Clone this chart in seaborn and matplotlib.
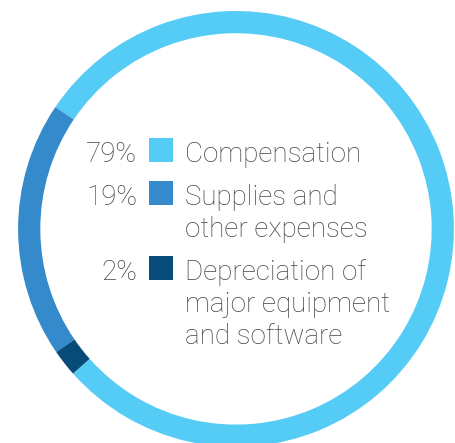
import seaborn as sns
import matplotlib.pyplot as plt
from matplotlib.patches import Rectangle

categories = ["Compensation", "Supplies and\nother expenses",
              "Depreciation of\nmajor equipment\nand software"]
shares = [79, 19, 2]
pct_labels = ["79%", "19%", "2%"]
colors = ["#55CCF5", "#358ACC", "#074B78"]

sns.set_theme(style="white")
plt.rcParams['font.family'] = ['Roboto', 'DejaVu Sans']

fig = plt.figure(figsize=(4.55, 4.43), dpi=100)
ax = fig.add_axes([0, 0, 1, 1])

# ring: compensation ends at ~146 deg, supplies follow counter-clockwise
start = 146 - shares[0] / 100 * 360
ax.pie(shares, colors=colors, startangle=start, counterclock=True,
       radius=1.0, wedgeprops=dict(width=0.102, linewidth=0))

ax.set_xlim(-1.083, 1.005)
ax.set_ylim(-0.982, 1.050)
ax.set_aspect('equal')
ax.axis('off')

# legend block inside the ring (pixel -> data: 218 px per unit, centre at 236,229)
px = 218.0
row_tops = [138, 181, 256]
line_gap = 32
text_col = "#444444"
for top, pct, lab, col in zip(row_tops, pct_labels, categories, colors):
    y0 = (229 - top) / px
    ax.add_patch(Rectangle(((149 - 236) / px, y0 - 24 / px), 24 / px, 24 / px,
                           color=col, lw=0))
    base = (229 - (top + 24)) / px
    ax.text((137 - 236) / px, base, pct, ha='right', va='baseline',
            fontsize=20, color=text_col, fontweight='light')
    for i, line in enumerate(lab.split("\n")):
        ax.text((185 - 236) / px, base - i * line_gap / px, line, ha='left',
                va='baseline', fontsize=20, color=text_col, fontweight='light')

plt.savefig("out.png", dpi=100)
